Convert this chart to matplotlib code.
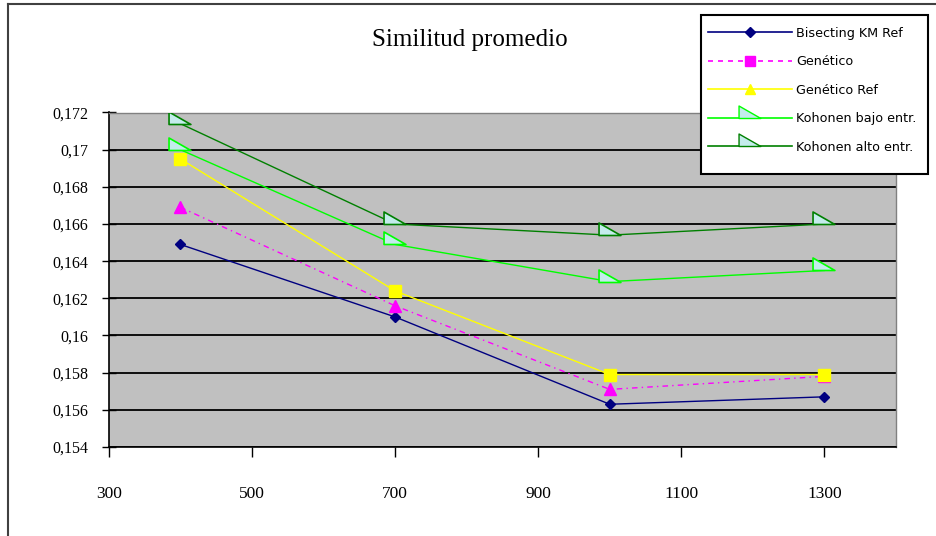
#!/usr/bin/env python3
"""Similitud promedio: line chart with Excel-like styling."""

import matplotlib

matplotlib.use("Agg")
import matplotlib.pyplot as plt
from matplotlib.lines import Line2D
from matplotlib.markers import MarkerStyle
from matplotlib.patches import Rectangle
from matplotlib.path import Path
from matplotlib.ticker import FixedLocator

# --- Data
x_vals = [400, 700, 1000, 1300]
bisecting = [0.1649, 0.1610, 0.1563, 0.1567]
genetico = [0.1669, 0.1616, 0.1571, 0.1578]
genetico_ref = [0.1695, 0.1624, 0.1579, 0.1579]
kohonen_bajo = [0.1700, 0.1649, 0.1629, 0.1635]
kohonen_alto = [0.1714, 0.1660, 0.1654, 0.1660]

series_names = [
    "Bisecting KM Ref",
    "Genético",
    "Genético Ref",
    "Kohonen bajo entr.",
    "Kohonen alto entr.",
]
y_ticks = [0.154, 0.156, 0.158, 0.160, 0.162, 0.164, 0.166, 0.168, 0.170, 0.172]
y_tick_labels = ["0,154", "0,156", "0,158", "0,16", "0,162", "0,164",
                 "0,166", "0,168", "0,17", "0,172"]
x_ticks = [300, 500, 700, 900, 1100, 1300]

# right-angle triangle sitting on the data point (Excel picture marker look)
tri_path = Path([(-11.0, 0.0), (-11.0, 12.0), (10.0, 0.0), (-11.0, 0.0)],
                [Path.MOVETO, Path.LINETO, Path.LINETO, Path.CLOSEPOLY])
tri_marker = MarkerStyle(tri_path, fillstyle="full")
tri_fill = "#c4ecec"

W, H = 936, 536
fig = plt.figure(figsize=(W / 100, H / 100), dpi=100, facecolor="white")
ax = fig.add_axes([108.8 / W, 1 - 447 / H, (896 - 108.8) / W, (447 - 112.5) / H])
ax.set_facecolor("#c0c0c0")

ax.plot(x_vals, bisecting, color="#000080", lw=1.0, marker="D",
        markersize=5.5, zorder=3)
ax.plot(x_vals, genetico, color="#ff00ff", lw=1.0, ls=(0, (4, 3, 1, 3)),
        marker="^", markersize=8, zorder=3)
ax.plot(x_vals, genetico_ref, color="#ffff00", lw=1.0, marker="s",
        markersize=8, zorder=3)
ax.plot(x_vals, kohonen_bajo, color="#00ff00", lw=1.0, marker=tri_marker,
        markersize=18, markerfacecolor=tri_fill, markeredgecolor="#00ff00",
        markeredgewidth=1.2, zorder=3)
ax.plot(x_vals, kohonen_alto, color="#008000", lw=1.0, marker=tri_marker,
        markersize=18, markerfacecolor=tri_fill, markeredgecolor="#008000",
        markeredgewidth=1.2, zorder=3)

ax.set_xlim(300, 1400)
ax.set_ylim(0.154, 0.172)
ax.xaxis.set_major_locator(FixedLocator(x_ticks))
ax.set_xticklabels([str(v) for v in x_ticks])
ax.set_yticks(y_ticks)
ax.set_yticklabels(y_tick_labels)

ax.yaxis.grid(True, color="black", lw=1.3)
ax.set_axisbelow(True)
for side in ("left", "bottom"):
    ax.spines[side].set_color("black")
    ax.spines[side].set_linewidth(1.2)
for side in ("top", "right"):
    ax.spines[side].set_color("#808080")
    ax.spines[side].set_linewidth(1.0)

for lab in ax.get_yticklabels():
    lab.set_fontfamily("Liberation Serif")
    lab.set_fontsize(11.5)
for lab in ax.get_xticklabels():
    lab.set_fontfamily("Liberation Serif")
    lab.set_fontsize(12.5)
ax.tick_params(axis="y", direction="inout", length=10, width=1.0, pad=10)
ax.tick_params(axis="x", direction="out", length=7, width=1.0, pad=21)

fig.text(470 / W, 1 - 40 / H, "Similitud promedio", ha="center", va="center",
         fontfamily="Liberation Serif", fontsize=18)

# legend box drawn separately so it keeps the original's spare room below
fig.add_artist(Rectangle((701 / W, 1 - 174 / H), 227 / W, 159 / H,
                         transform=fig.transFigure, facecolor="white",
                         edgecolor="black", lw=1.5, zorder=4))

# legend (marker shapes as they appear in the original legend)
handles = [
    Line2D([], [], color="#000080", lw=1.2, marker="D", markersize=5),
    Line2D([], [], color="#ff00ff", lw=1.2, ls=(0, (3, 3)), marker="s",
           markersize=7),
    Line2D([], [], color="#ffff00", lw=1.2, marker="^", markersize=7),
    Line2D([], [], color="#00ff00", lw=1.2, marker=tri_marker, markersize=18,
           markerfacecolor=tri_fill, markeredgecolor="#00ff00"),
    Line2D([], [], color="#008000", lw=1.2, marker=tri_marker, markersize=18,
           markerfacecolor=tri_fill, markeredgecolor="#008000"),
]
leg = fig.legend(handles, series_names, loc="upper left",
                 bbox_to_anchor=(708 / W, 1 - 26.5 / H), frameon=False,
                 prop={"family": "DejaVu Sans", "size": 9.2},
                 handlelength=6.6, handletextpad=0.3, labelspacing=1.22,
                 borderpad=0, borderaxespad=0)
leg.set_zorder(5)

# chart-area border
fig.add_artist(Line2D([8 / W, 8 / W], [0, 1 - 4 / H], color="#404040", lw=1.5))
fig.add_artist(Line2D([8 / W, 1], [1 - 4 / H, 1 - 4 / H], color="#404040", lw=1.5))

fig.savefig("out.png", dpi=100, facecolor="white")
